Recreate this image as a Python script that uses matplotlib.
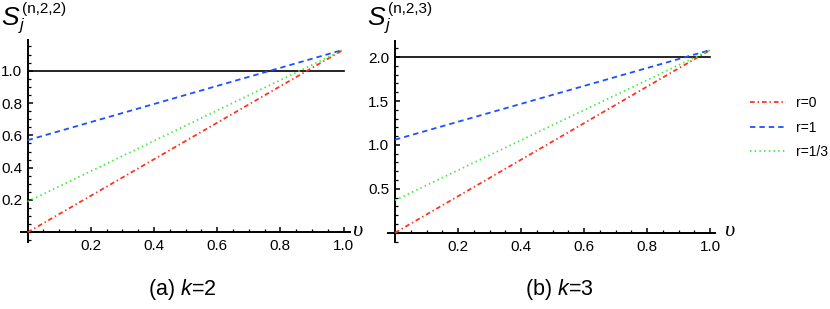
import numpy as np
import matplotlib
matplotlib.use("Agg")
import matplotlib.pyplot as plt
from matplotlib.ticker import MultipleLocator, FixedLocator

plt.rcParams['font.family'] = ['Liberation Sans', 'DejaVu Sans']
plt.rcParams['mathtext.fontset'] = 'custom'
plt.rcParams['mathtext.rm'] = 'Liberation Sans'
plt.rcParams['mathtext.it'] = 'Liberation Sans:italic'

# values (v = 0 and v = 1)
v = [0.0, 1.0]
k2_r0 = [0.0, 1.13]
k2_r1 = [0.57, 1.13]
k2_r13 = [0.19, 1.13]
k3_r0 = [0.0, 2.08]
k3_r1 = [1.06, 2.08]
k3_r13 = [0.37, 2.08]
labels = ["r=0", "r=1", "r=1/3"]
ref_level = [1.0, 2.0]
sup_labels = ["(n,2,2)", "(n,2,3)"]

colors = ['#ff3322', '#1f4fff', '#3bee3b']
styles = [(0, (2.6, 1.6, 0.8, 1.6)), (0, (3.0, 2.2)), (0, (0.8, 1.8))]

fig = plt.figure(figsize=(8.3, 3.09), dpi=100)
ax1 = fig.add_axes([0.0249, 0.2168, 0.3966, 0.6537])
ax2 = fig.add_axes([0.4676, 0.2155, 0.394, 0.6508])


def style_axes(ax, xlim, ylim, yminor, yticks):
    ax.set_xlim(*xlim)
    ax.set_ylim(*ylim)
    for s in ['top', 'right']:
        ax.spines[s].set_visible(False)
    for s in ['left', 'bottom']:
        ax.spines[s].set_position(('data', 0))
        ax.spines[s].set_linewidth(1.4)
    ax.xaxis.set_major_locator(FixedLocator([0.2, 0.4, 0.6, 0.8, 1.0]))
    ax.xaxis.set_minor_locator(MultipleLocator(0.05))
    ax.yaxis.set_major_locator(FixedLocator(yticks))
    ax.yaxis.set_minor_locator(MultipleLocator(yminor))
    ax.tick_params(which='major', direction='in', length=3.5, width=1.1, labelsize=11)
    ax.tick_params(which='minor', direction='in', length=2, width=0.9)
    ax.tick_params(axis='x', pad=5)
    ax.tick_params(axis='y', pad=4)
    ax.patch.set_visible(False)


style_axes(ax1, (-0.022, 1.02), (-0.06, 1.19), 0.05, [0.2, 0.4, 0.6, 0.8, 1.0])
style_axes(ax2, (-0.022, 1.016), (-0.11, 2.18), 0.1, [0.5, 1.0, 1.5, 2.0])

for ax, series, lvl in [(ax1, [k2_r0, k2_r1, k2_r13], ref_level[0]),
                        (ax2, [k3_r0, k3_r1, k3_r13], ref_level[1])]:
    ax.plot([0, 1], [lvl, lvl], color='black', lw=1.2, zorder=2)
    for ys, c, ls, lab in zip(series, colors, styles, labels):
        ax.plot(v, ys, color=c, ls=ls, lw=1.3, label=lab, zorder=3)

h, l = ax2.get_legend_handles_labels()
fig.legend(h, l, loc='center left', bbox_to_anchor=(0.904, 0.587), frameon=False,
           fontsize=10, handlelength=2.6, handletextpad=0.7, labelspacing=0.75,
           borderpad=0, borderaxespad=0)

# y labels: S, subscript j, superscript (n,2,k) composed by hand
W, H = 830, 309
for x0, sup in [(1, sup_labels[0]), (367, sup_labels[1])]:
    fig.text(x0 / W, 1 - 25 / H, 'S', fontsize=19, style='italic', va='baseline')
    fig.text((x0 + 19) / W, 1 - 30 / H, 'j', fontsize=12, style='italic', va='baseline')
    fig.text((x0 + 21) / W, 1 - 13 / H, sup, fontsize=11, va='baseline')

fig.text(357 / W, 1 - 231 / H, 'υ', family='Liberation Serif', style='italic',
         fontsize=16, ha='center', va='center')
fig.text(729 / W, 1 - 231 / H, 'υ', family='Liberation Serif', style='italic',
         fontsize=16, ha='center', va='center')
fig.text(182 / W, 1 - 290 / H, r'(a) $k$=2', fontsize=15.5, ha='center', va='center')
fig.text(559 / W, 1 - 290 / H, r'(b) $k$=3', fontsize=15.5, ha='center', va='center')

fig.savefig('out.png', dpi=100)
